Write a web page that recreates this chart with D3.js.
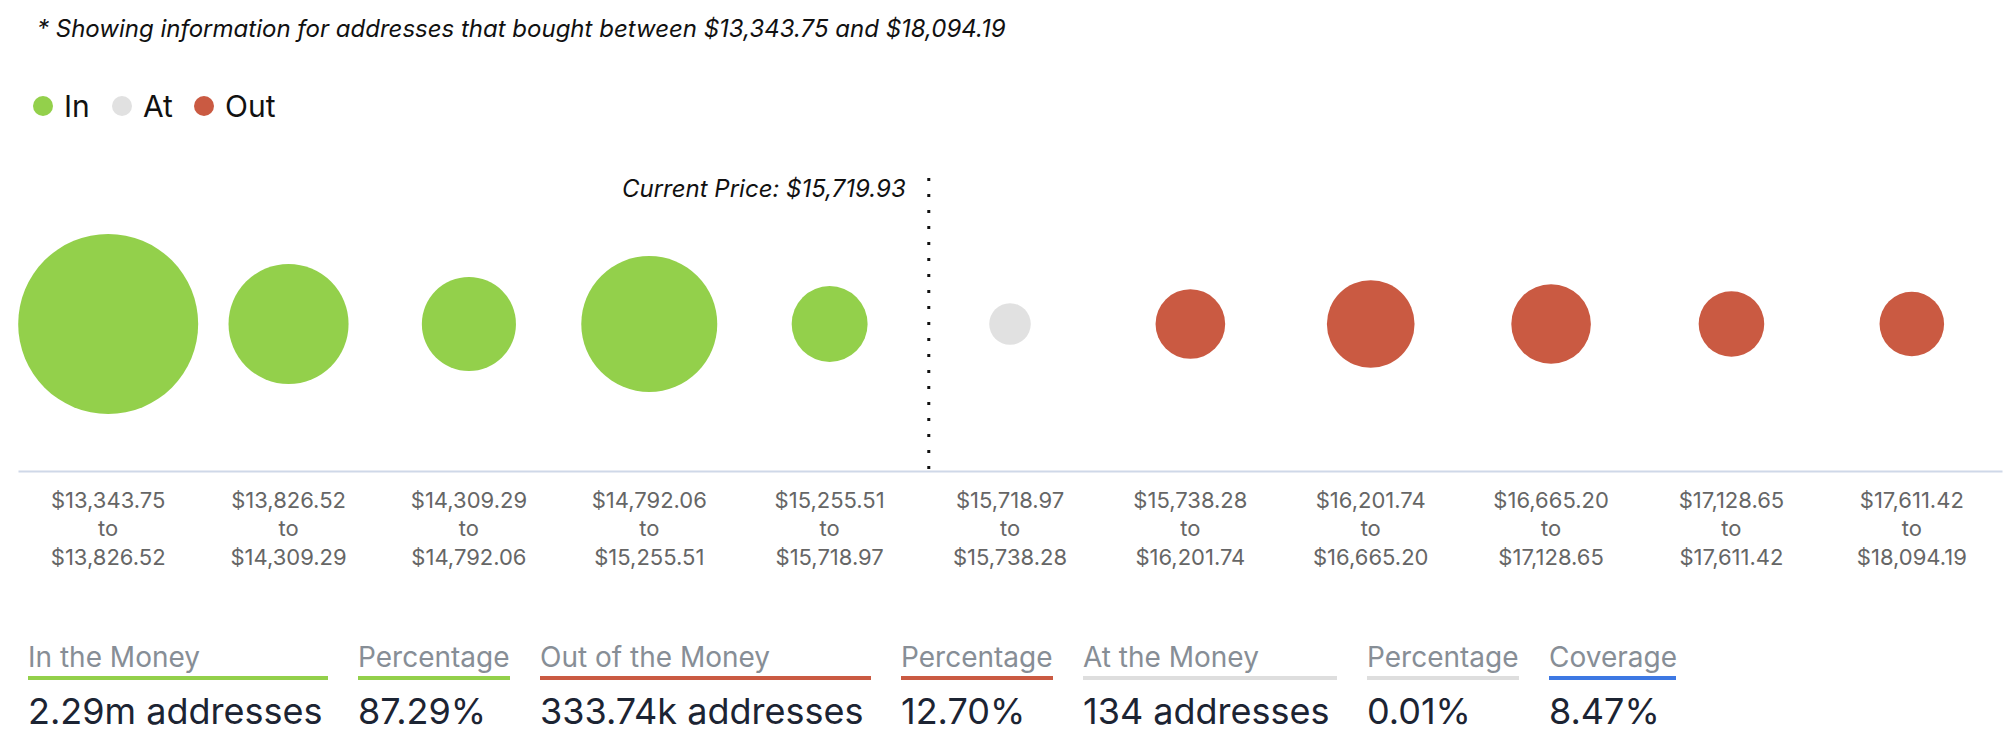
<!DOCTYPE html>
<html>
<head>
<meta charset="utf-8">
<script src="https://cdn.jsdelivr.net/npm/d3@7"></script>
<style>
  html, body { margin: 0; padding: 0; background: #ffffff; }
  svg { display: block; font-family: Inter, "Noto Sans", sans-serif; }
</style>
</head>
<body>
<svg id="chart" width="2008" height="746"></svg>
<script>
// ---------------- DATA ----------------
const rangeFrom = ["$13,343.75","$13,826.52","$14,309.29","$14,792.06","$15,255.51","$15,718.97","$15,738.28","$16,201.74","$16,665.20","$17,128.65","$17,611.42"];
const rangeTo   = ["$13,826.52","$14,309.29","$14,792.06","$15,255.51","$15,718.97","$15,738.28","$16,201.74","$16,665.20","$17,128.65","$17,611.42","$18,094.19"];
const rangeLow  = [13343.75,13826.52,14309.29,14792.06,15255.51,15718.97,15738.28,16201.74,16665.20,17128.65,17611.42];
const rangeHigh = [13826.52,14309.29,14792.06,15255.51,15718.97,15738.28,16201.74,16665.20,17128.65,17611.42,18094.19];
const addresses = [1138000, 372000, 170000, 535000, 75000, 134, 51000, 132000, 91000, 38000, 35000];
const status    = ["In","In","In","In","In","At","Out","Out","Out","Out","Out"];
const currentPrice = 15719.93;
const subtitle = "* Showing information for addresses that bought between $13,343.75 and $18,094.19";
const legendKeys = ["In","At","Out"];
const statLabels = ["In the Money","Percentage","Out of the Money","Percentage","At the Money","Percentage","Coverage"];
const statValues = ["2.29m addresses","87.29%","333.74k addresses","12.70%","134 addresses","0.01%","8.47%"];
const statKinds  = ["In","In","Out","Out","At","At","Cov"];

// ---------------- STYLE / LAYOUT ----------------
const colors = { In: "#93d04b", At: "#e1e1e1", Out: "#ca5a42", Cov: "#3d78e3" };
const underlineColors = { In: "#93d04b", At: "#dedede", Out: "#ca5a42", Cov: "#3d78e3" };
const statWidths = [300,152,331,152,254,152,127];

const svg = d3.select("#chart");

// Subtitle
svg.append("text")
  .attr("x", 37).attr("y", 37)
  .attr("font-size", 24).attr("font-style", "italic")
  .attr("fill", "#111")
  .text(subtitle);

// Legend
const legendX = [43, 122, 204];
const lg = svg.append("g");
legendKeys.forEach((k, i) => {
  lg.append("circle").attr("cx", legendX[i]).attr("cy", 106).attr("r", 10).attr("fill", colors[k]);
  lg.append("text").attr("x", legendX[i] + 21).attr("y", 117)
    .attr("font-size", 30).attr("fill", "#111").text(k);
});

// Scales
const idx = d3.range(rangeFrom.length);
const x = d3.scaleBand().domain(idx).range([18, 2002]).padding(0);
const r = d3.scaleSqrt().domain([0, d3.max(addresses)]).range([20, 90]);
const cy = 324;
const axisY = 471;

// Bubbles
svg.append("g").selectAll("circle")
  .data(idx)
  .join("circle")
  .attr("cx", i => x(i) + x.bandwidth() / 2)
  .attr("cy", cy)
  .attr("r", i => r(addresses[i]))
  .attr("fill", i => colors[status[i]]);

// Axis
const axis = d3.axisBottom(x).tickSize(0).tickPadding(0).tickFormat(() => "");
const ag = svg.append("g").attr("transform", `translate(0,${axisY})`).call(axis);
ag.select(".domain").attr("stroke", "#cfd8e8").attr("stroke-width", 2);
ag.selectAll(".tick text").remove();
ag.selectAll(".tick").each(function(i) {
  const t = d3.select(this).append("text")
    .attr("text-anchor", "middle")
    .attr("font-size", 22)
    .attr("fill", "#666")
    .attr("font-family", "Inter, 'Noto Sans', sans-serif");
  t.append("tspan").attr("x", 0).attr("y", 37).text(rangeFrom[i]);
  t.append("tspan").attr("x", 0).attr("y", 65).text("to");
  t.append("tspan").attr("x", 0).attr("y", 94).text(rangeTo[i]);
});

// Current price marker (interpolated within its band)
const pi = rangeLow.findIndex((lo, i) => currentPrice >= lo && currentPrice < rangeHigh[i]);
const px = x(pi) + x.bandwidth() * (currentPrice - rangeLow[pi]) / (rangeHigh[pi] - rangeLow[pi]);
svg.append("line")
  .attr("x1", px).attr("x2", px)
  .attr("y1", 178).attr("y2", axisY)
  .attr("stroke", "#111").attr("stroke-width", 3)
  .attr("stroke-dasharray", "3,13");
svg.append("text")
  .attr("x", px - 23).attr("y", 197)
  .attr("text-anchor", "end")
  .attr("font-size", 24).attr("font-style", "italic")
  .attr("fill", "#111")
  .text("Current Price: " + d3.format("$,.2f")(currentPrice));

// Stats row
let sx = 28;
const sg = svg.append("g");
statLabels.forEach((lab, i) => {
  sg.append("text").attr("x", sx).attr("y", 667)
    .attr("font-size", 28).attr("fill", "#878e96").text(lab);
  sg.append("rect").attr("x", sx).attr("y", 676).attr("width", statWidths[i]).attr("height", 4)
    .attr("fill", underlineColors[statKinds[i]]);
  sg.append("text").attr("x", sx).attr("y", 724)
    .attr("font-size", 36).attr("fill", "#1c2433").text(statValues[i]);
  sx += statWidths[i] + 30;
});
</script>
</body>
</html>
